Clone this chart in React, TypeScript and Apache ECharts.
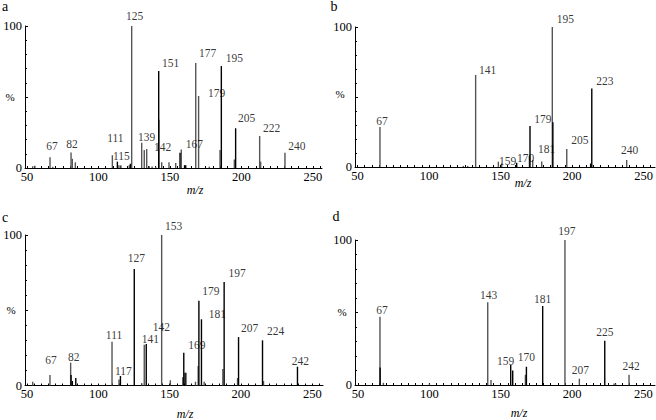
import React, { useEffect, useRef } from "react";
import * as echarts from "echarts";

// ---------- DATA (m/z position as drawn, relative intensity %) ----------
// Panel a
const aMz = [54.0, 55.5, 66.1, 68.0, 80.8, 81.7, 83.8, 109.7, 113.2, 114.3, 115.7, 121.5, 122.3, 123.2, 130.2, 132.0, 133.7, 135.5, 137.5, 140.0, 142.1, 142.1, 144.2, 149.3, 154.0, 157.0, 157.9, 160.2, 161.0, 168.0, 170.0, 177.5, 185.0, 185.9, 195.0, 195.9, 212.7, 213.4, 230.4];
const aInt = [1.2, 1.5, 7.5, 0.8, 11, 6.5, 4, 9, 4.5, 2, 2, 2, 3, 100, 17.8, 12.7, 13.4, 1.2, 1, 1, 68.3, 34, 4, 4, 3.5, 10.8, 13, 2, 2, 74, 50.7, 1, 12.7, 71.8, 6, 28, 22.5, 4.5, 10.8];
const aLabelText = ["67", "82", "111", "115", "125", "139", "142", "151", "167", "177", "179", "195", "205", "222", "240"];
const aLabelAt = [66.1, 80.8, 109.7, 113.2, 123.2, 130.2, 133.7, 142.1, 157.9, 168.0, 170.0, 185.9, 195.9, 212.7, 230.4];

// Panel b
const bMz = [65.7, 124.0, 127.0, 132.6, 148.5, 150.8, 161.3, 170.2, 170.6, 172.5, 178.8, 186.2, 186.6, 196.3, 213.0, 213.8, 238.2];
const bInt = [28.6, 0.8, 0.8, 65.7, 3.8, 2.5, 3, 8, 29.3, 5, 4, 100, 32, 12.9, 2.5, 56, 5];
const bLabelText = ["67", "141", "159", "170", "179", "181", "195", "205", "223", "240"];
const bLabelAt = [65.7, 132.6, 150.8, 172.5, 170.6, 178.8, 186.2, 196.3, 213.8, 238.2];

// Panel c
const cMz = [54.0, 66.1, 80.6, 80.9, 81.8, 84.2, 109.6, 114.5, 115.5, 125.2, 130.5, 132.2, 133.6, 144.4, 150.5, 159.2, 159.9, 160.8, 161.5, 168.1, 170.0, 170.5, 172.3, 174.2, 187.3, 188.2, 197.6, 198.3, 215.1, 215.8, 239.6];
const cInt = [2.5, 7, 15.2, 7, 3, 5, 29, 4, 6.3, 77.4, 1.5, 27, 27.6, 100, 3.5, 5.5, 21.8, 8.5, 8.5, 2.5, 13, 56.3, 44, 2.5, 11, 68.8, 5, 32.2, 30, 3, 12.5];
const cLabelText = ["67", "82", "111", "117", "127", "141", "142", "153", "169", "179", "181", "197", "207", "224", "242"];
const cLabelAt = [66.1, 80.6, 109.6, 115.5, 125.2, 133.6, 133.6, 144.4, 159.9, 170.5, 172.3, 188.2, 198.3, 215.1, 239.6];

// Panel d
const dMz = [65.4, 65.5, 67.8, 100.0, 140.9, 143.2, 157.0, 158.4, 167.3, 168.0, 179.4, 195.0, 205.1, 222.9, 229.4, 230.5, 239.9];
const dInt = [47, 12, 1.5, 1, 57, 3.4, 13.8, 10, 7, 12.6, 54.5, 100, 4.3, 30.6, 1, 1, 7];
const dLabelText = ["67", "143", "159", "170", "181", "197", "207", "225", "242"];
const dLabelAt = [65.4, 140.9, 157.0, 168.0, 179.4, 195.0, 205.1, 222.9, 239.9];

const xTickLabels = [50, 100, 150, 200, 250];
const yTickLabels = [0, 100];

// ---------- STYLE / LAYOUT ----------
const aDarkAt = [113.2, 122.3, 142.1, 157.0, 160.2, 161.0, 185.9, 195.9];
const bDarkAt = [161.3, 170.6, 186.6, 213.0, 213.8];
const cDarkAt = [80.9, 81.8, 84.2, 115.5, 125.2, 133.6, 159.9, 160.8, 170.5, 172.3, 188.2, 198.3, 215.1, 239.6];
const dDarkAt = [65.5, 157.0, 158.4, 168.0, 179.4, 222.9];

const aLabelOffset = [[2, -11], [1, -8], [3, -17], [4, -6], [3, -10], [5, -6], [16, -2], [12, -8], [13, -6], [12, -10], [18, -3], [13, -8], [11, -10], [12, -8], [12, -7]];
const bLabelOffset = [[2, -6], [12, -5], [6, -3], [-7, -2], [13, -7], [5, -12], [13, -8], [13, -9], [13, -8], [3, -10]];
const cLabelOffset = [[1, -15], [3, -6], [2, -7], [3, -5], [2, -11], [4, -5], [15, -17], [12, -9], [13, -8], [12, -10], [16, -5], [13, -9], [11, -9], [13, -9], [3, -6]];
const dLabelOffset = [[2, -7], [1, -7], [-5, -4], [0, -10], [0, -7], [2, -9], [1, -9], [0, -9], [2, -9]];

const FONT = "Liberation Serif, Times New Roman, serif";

const panels = [
  { mz: aMz, int: aInt, dark: aDarkAt, lt: aLabelText, la: aLabelAt, lo: aLabelOffset, grid: { left: 25, top: 26, width: 297, height: 142 }, xmin: 48.6, xmax: 256.3, letter: "a", letterPos: [5, 6], pct: [10, 97], mzPos: [195, 190] },
  { mz: bMz, int: bInt, dark: bDarkAt, lt: bLabelText, la: bLabelAt, lo: bLabelOffset, grid: { left: 355, top: 27, width: 300, height: 140 }, xmin: 48.25, xmax: 258.0, letter: "b", letterPos: [334, 6], pct: [340, 94], mzPos: [523, 183] },
  { mz: cMz, int: cInt, dark: cDarkAt, lt: cLabelText, la: cLabelAt, lo: cLabelOffset, grid: { left: 25, top: 235, width: 298, height: 150.5 }, xmin: 48.6, xmax: 257.5, letter: "c", letterPos: [5, 217], pct: [11, 310], mzPos: [185, 414] },
  { mz: dMz, int: dInt, dark: dDarkAt, lt: dLabelText, la: dLabelAt, lo: dLabelOffset, grid: { left: 355, top: 240, width: 300, height: 145 }, xmin: 47.9, xmax: 258.1, letter: "d", letterPos: [336, 216], pct: [342, 312], mzPos: [519, 413] },
];

const fives: number[] = [];
for (let v = 50; v <= 255; v += 5) fives.push(v);

function buildOption() {
  const grids: any[] = [];
  const xAxes: any[] = [];
  const yAxes: any[] = [];
  const series: any[] = [];
  const graphics: any[] = [];

  panels.forEach((p, i) => {
    grids.push({ ...p.grid });
    xAxes.push({
      type: "value",
      gridIndex: i,
      min: p.xmin,
      max: p.xmax,
      splitLine: { show: false },
      axisLine: { show: true, lineStyle: { color: "#000", width: 1 } },
      axisTick: { show: true, inside: true, length: 2, customValues: fives, lineStyle: { color: "#000" } },
      axisLabel: { customValues: xTickLabels, color: "#000", fontFamily: FONT, fontSize: 12.5, margin: 2 },
    });
    yAxes.push({
      type: "value",
      gridIndex: i,
      min: 0,
      max: 100,
      interval: 50,
      splitLine: { show: false },
      axisLine: { show: true, lineStyle: { color: "#000", width: 1 } },
      axisTick: { show: true, inside: true, length: 3, lineStyle: { color: "#000" } },
      minorTick: { show: true, splitNumber: 5, length: 2, lineStyle: { color: "#000" } },
      axisLabel: {
        color: "#000",
        fontFamily: FONT,
        fontSize: 12.5,
        margin: 3,
        formatter: (v: number) => (yTickLabels.indexOf(v) >= 0 ? String(v) : ""),
      },
    });

    const darkSet = p.dark;
    const isDark = (x: number) => darkSet.some((d) => Math.abs(d - x) < 0.01);
    const pts = p.mz.map((x, j) => [x, p.int[j], isDark(x) ? 1 : 0]);
    pts.sort((u, v) => u[2] - v[2]);

    series.push({
      type: "custom",
      xAxisIndex: i,
      yAxisIndex: i,
      silent: true,
      data: pts,
      renderItem: (params: any, api: any) => {
        const x = api.value(0);
        const y = api.value(1);
        const p0 = api.coord([x, 0]);
        const p1 = api.coord([x, y]);
        return {
          type: "line",
          shape: { x1: p0[0], y1: p0[1], x2: p1[0], y2: p1[1] },
          style: { stroke: api.value(2) ? "#000" : "#555", lineWidth: 1.4 },
        };
      },
    });

    const intensityAt = (x: number) => {
      let m = 0;
      p.mz.forEach((mx, j) => {
        if (Math.abs(mx - x) < 0.01 && p.int[j] > m) m = p.int[j];
      });
      return m;
    };

    series.push({
      type: "scatter",
      xAxisIndex: i,
      yAxisIndex: i,
      silent: true,
      symbolSize: 1,
      itemStyle: { color: "rgba(0,0,0,0)" },
      label: {
        show: true,
        position: "inside",
        align: "center",
        verticalAlign: "middle",
        formatter: "{b}",
        color: "#000",
        fontFamily: FONT,
        fontSize: 11.5,
      },
      data: p.lt.map((t, j) => ({
        name: t,
        value: [p.la[j], intensityAt(p.la[j])],
        label: { offset: p.lo[j], color: "#000" },
      })),
    });

    graphics.push({
      type: "text",
      x: p.letterPos[0],
      y: p.letterPos[1],
      style: { text: p.letter, fontFamily: FONT, fontSize: 14, fill: "#000", align: "center", verticalAlign: "middle" },
    });
    graphics.push({
      type: "text",
      x: p.pct[0],
      y: p.pct[1],
      style: { text: "%", fontFamily: FONT, fontSize: 11, fill: "#000", align: "center", verticalAlign: "middle" },
    });
    graphics.push({
      type: "text",
      x: p.mzPos[0],
      y: p.mzPos[1],
      style: { text: "m/z", fontFamily: FONT, fontStyle: "italic", fontSize: 12, fill: "#000", align: "center", verticalAlign: "middle" },
    });
  });

  return {
    animation: false,
    backgroundColor: "#fff",
    grid: grids,
    xAxis: xAxes,
    yAxis: yAxes,
    series,
    graphic: graphics,
  };
}

export default function App() {
  const ref = useRef<HTMLDivElement>(null);
  useEffect(() => {
    if (!ref.current) return;
    const chart = echarts.init(ref.current, null, { renderer: "svg" });
    chart.setOption(buildOption() as any);
    return () => chart.dispose();
  }, []);
  return (
    <div
      ref={ref}
      style={{ position: "absolute", left: 0, top: 0, width: 656, height: 420, background: "#fff" }}
    />
  );
}
